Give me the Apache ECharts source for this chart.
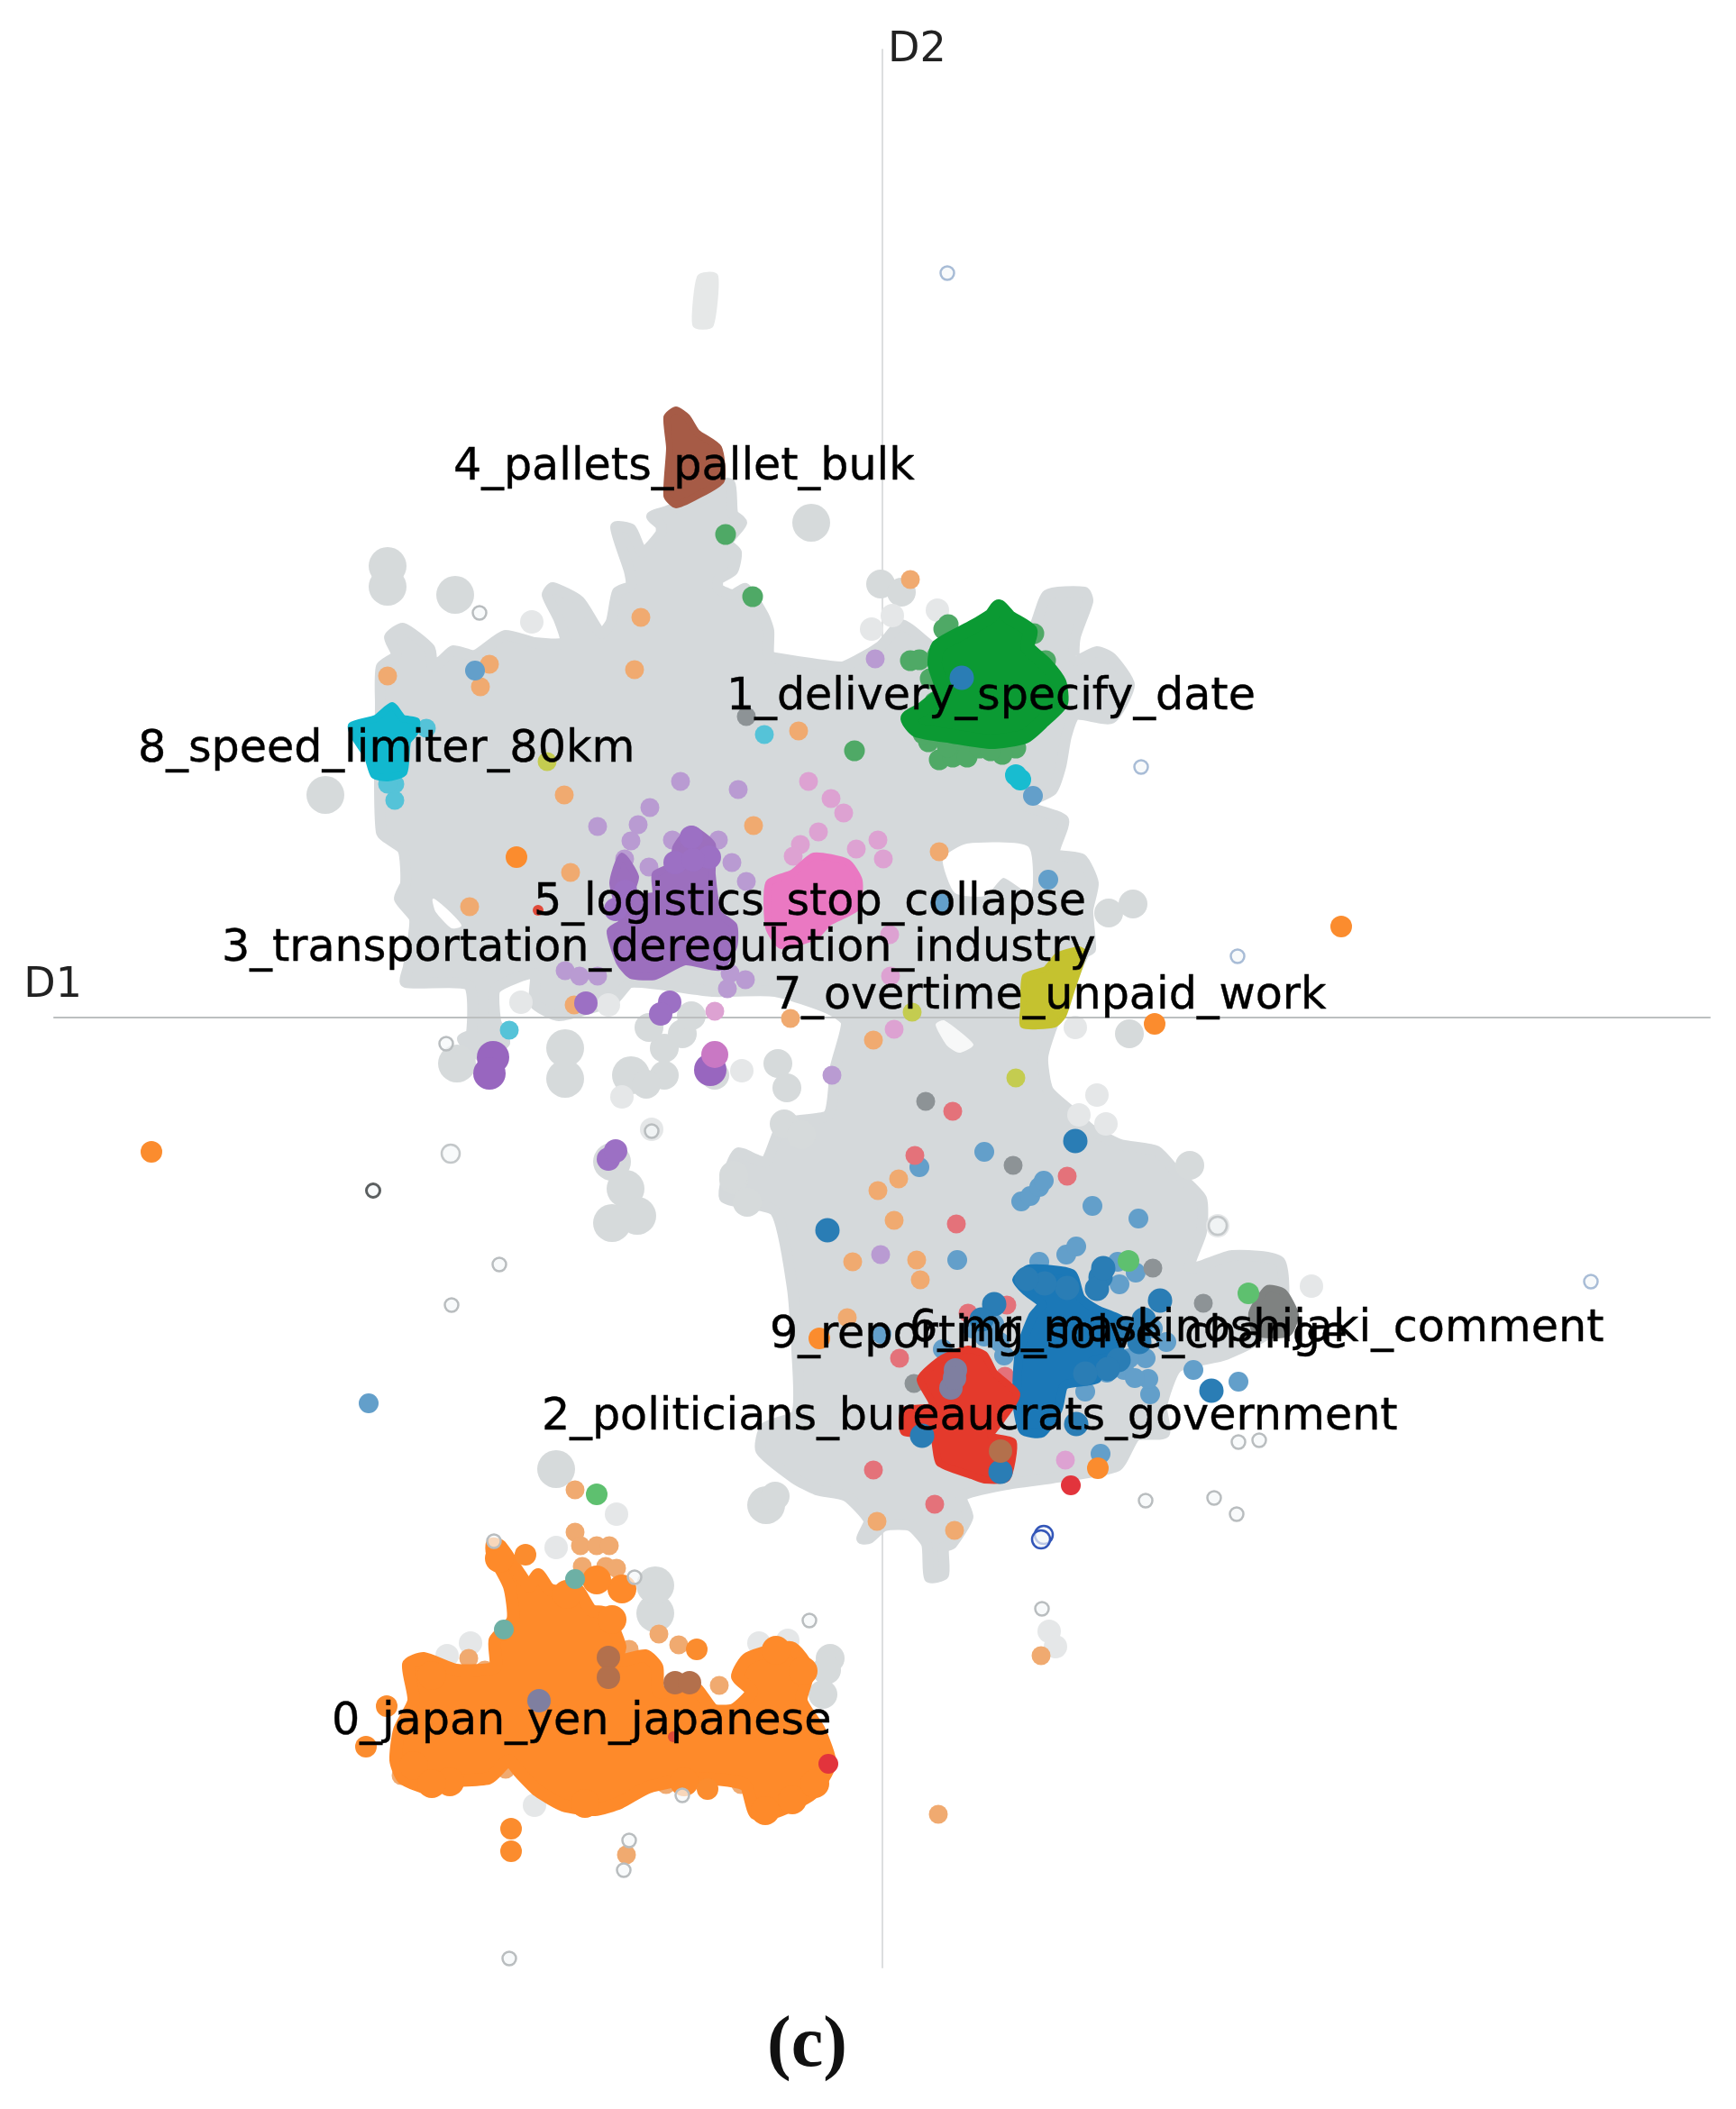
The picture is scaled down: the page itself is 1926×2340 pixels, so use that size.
<!DOCTYPE html>
<html>
<head>
<meta charset="utf-8">
<title>D1 D2 topic map</title>
<style>
html, body { margin: 0; padding: 0; background: #fff; }
#main { width: 1926px; height: 2340px; }
</style>
<script src="https://cdn.jsdelivr.net/npm/echarts@6/dist/echarts.min.js"></script>
</head>
<body>
<div id="main"></div>
<script>
// topic names and where their text starts on the D1 / D2 plane
const topicNames = [
    "0_japan_yen_japanese", "1_delivery_specify_date", "2_politicians_bureaucrats_government",
    "3_transportation_deregulation_industry", "4_pallets_pallet_bulk", "5_logistics_stop_collapse",
    "6_mr_maskinoshijaki_comment", "7_overtime_unpaid_work", "8_speed_limiter_80km", "9_reporting_solve_change"
]
const topicD1 = [-611, -173, -378, -733, -476, -387, 30, -121, -826, -125]
const topicD2 = [-782, 355, -444, 76, 610, 127, -346, 23, 297, -353]

// outlines of the dense regions
const grayMass = [
    [-557,349],[-556,389],[-539,402],[-547,422],[-532,432],[-502,409],[-499,389],[-489,396],[-476,407],[-452,402],
    [-419,424],[-386,416],[-352,416],[-359,442],[-372,469],[-366,477],[-336,462],[-312,426],[-301,439],[-294,472],
    [-279,479],[-281,496],[-296,544],[-279,542],[-266,516],[-246,537],[-246,546],[-256,556],[-239,562],[-189,582],
    [-186,592],[-169,592],[-166,559],[-156,549],[-166,536],[-172,526],[-162,516],[-166,496],[-182,486],[-182,476],
    [-166,469],[-152,476],[-132,446],[-126,429],[-126,402],[-119,399],[-46,389],[-29,396],[-2,412],[21,436],
    [54,412],[80,400],[164,426],[183,469],[224,472],[228,462],[214,422],[214,396],[238,406],[254,399],
    [274,369],[254,332],[214,336],[204,312],[198,279],[188,252],[158,236],[201,219],[191,182],[221,176],
    [234,149],[228,119],[231,76],[224,72],[190,-5],[178,-44],[184,-81],[214,-108],[231,-124],[264,-141],
    [304,-148],[328,-174],[354,-201],[354,-238],[341,-278],[388,-264],[441,-271],[441,-340],[381,-374],[327,-388],
    [310,-431],[313,-461],[281,-464],[260,-498],[188,-511],[138,-518],[88,-531],[95,-554],[77,-584],[68,-588],
    [68,-618],[52,-621],[49,-584],[31,-564],[2,-564],[-15,-578],[-23,-578],[-15,-558],[-40,-531],[-73,-524],
    [-98,-511],[-135,-480],[-130,-455],[-95,-440],[-95,-369],[-100,-300],[-119,-215],[-175,-200],[-170,-170],[-160,-150],
    [-130,-160],[-110,-118],[-60,-108],[-52,-54],[-40,-5],[-60,10],[-119,29],[-189,29],[-279,39],[-299,19],
    [-359,2],[-386,16],[-386,49],[-429,32],[-429,-4],[-419,-28],[-449,-41],[-466,-24],[-456,-18],[-459,36],
    [-529,39],[-526,56],[-519,109],[-536,132],[-529,149],[-532,186],[-556,206]
]
const grayStreak = [[-202,821],[-186,822],[-191,769],[-207,769]]
const gapRight = [[68,176],[94,192],[161,189],[164,139],[134,156],[114,136],[81,139]]
const gapLeft = [[-498,131],[-480,116],[-468,102],[-478,100],[-495,118]]
const gapNotch = [[60,-8],[68,-4],[100,-30],[85,-38],[72,-30]]
const greenCore = [
    [129,456],[141,444],[164,429],[161,411],[181,392],[196,372],[198,349],[178,329],[158,312],[121,306],
    [78,312],[38,319],[28,332],[44,342],[66,362],[58,392],[62,412],[98,432],[121,446]
]
const brownCore = [[-229,674],[-217,666],[-206,649],[-182,632],[-179,596],[-206,579],[-229,569],[-239,579],[-236,632],[-239,666]]
const cyanCore = [[-544,346],[-532,332],[-517,329],[-519,316],[-527,306],[-531,272],[-549,266],[-564,269],[-571,289],[-586,312],[-589,324],[-562,332]]
const purpleCore = [
    [-212,209],[-189,192],[-189,159],[-182,116],[-165,102],[-165,79],[-180,56],[-219,62],[-252,46],[-279,47],
    [-292,62],[-302,96],[-289,106],[-299,149],[-289,179],[-274,156],[-279,136],[-252,136],[-252,159],[-232,169],[-229,189]
]
const pinkCore = [[-76,179],[-39,172],[-26,152],[-29,122],[-59,106],[-75,90],[-112,80],[-126,100],[-126,149],[-100,160]]
const yellowCore = [[218,76],[224,72],[211,32],[201,2],[191,-8],[156,-9],[156,12],[158,46],[181,54],[194,69]]
const redCore = [
    [95,-368],[113,-374],[124,-394],[149,-418],[131,-448],[120,-464],[145,-471],[138,-511],[113,-513],[99,-508],
    [63,-494],[56,-464],[24,-460],[24,-436],[56,-431],[42,-401],[67,-378]
]
const blueCore = [
    [149,-291],[163,-279],[210,-284],[220,-311],[238,-324],[267,-338],[260,-374],[233,-381],[238,-401],[202,-408],
    [195,-434],[177,-461],[156,-458],[149,-424],[152,-371],[167,-331],[177,-318],[160,-304]
]
const grayCore = [[410,-328],[427,-301],[445,-305],[458,-330],[450,-350],[415,-350]]
const orangeCore = [
    [-433,-584],[-424,-586],[-402,-618],[-392,-631],[-382,-618],[-370,-634],[-354,-638],[-339,-634],[-323,-658],[-307,-661],
    [-291,-698],[-295,-714],[-263,-708],[-250,-721],[-248,-748],[-208,-744],[-188,-768],[-165,-768],[-145,-748],[-161,-731],
    [-149,-711],[-101,-699],[-82,-724],[-90,-758],[-70,-791],[-58,-828],[-78,-861],[-117,-881],[-141,-883],[-153,-851],
    [-208,-844],[-260,-854],[-291,-871],[-319,-879],[-354,-874],[-382,-858],[-402,-838],[-414,-824],[-420,-828],[-437,-844],
    [-489,-848],[-501,-856],[-532,-844],[-540,-824],[-536,-791],[-520,-758],[-526,-718],[-509,-711],[-473,-724],[-430,-721],
    [-430,-691],[-410,-668],[-414,-631],[-433,-594]
]

// scattered gray documents
const grayLarge = [
    [-549,501],[-549,478],[-474,469],[-618,247],[-79,549],[-129,-541],[-252,-661],[-252,-630],[-362,-501],[-300,-160],
    [-285,-190],[-272,-220],[-300,-228],[-472,-51],[-352,-34],[-352,-68],[-279,-64]
]
const grayMedium = [
    [-2,481],[21,472],[251,116],[278,126],[-242,-34],[-242,-64],[-262,-74],[-186,-64],[-222,-18],[-259,-11],
    [-212,2],[-116,-51],[-106,-78],[-109,-118],[274,-18],[-58,-711],[-119,-531],[-62,-724],[-66,-751],[341,-164],
    [-165,-180],[-150,-205],[-90,-130],[-165,-175]
]
const grayLight = [
    [-389,439],[61,452],[-12,431],[11,446],[238,-86],[218,-108],[248,-118],[214,-11],[-289,-88],
    [-156,-59],[-256,-124],[-401,17],[-304,14],[476,-298],[-362,-588],[-295,-551],[-483,-708],[-457,-694],[-137,-694],
    [-105,-691],[-386,-874],[185,-681],[192,-698],[372,-231]
]

// outlined, almost empty dots
const ringBlue = [[72,826],[287,278],[394,68],[786,-293]]
const ringGray = [
    [292,-536],[368,-533],[393,-551],[177,-656],[-81,-669],[-425,-274],[-478,-319],[-414,-1044],[-222,-863],
    [-287,-946],[-281,-913],[-431,-581],[-275,-621],[395,-471],[418,-469],[-447,449],[-484,-29],[-256,-126]
]
const ringLarge = [[-479,-151],[372,-231]]
const ringDark = [[-565,-192]]
const ringNavy = [[179,-574],[176,-579]]

// single documents per topic
const orangePale = [
    [-268,444],[-275,386],[-549,379],[-436,392],[-446,367],[31,486],[-93,318],[63,184],[-353,247],[-143,213],
    [-346,161],[-458,123],[-102,-1],[-10,-25],[18,-179],[-5,-192],[13,-225],[-33,-271],[38,-269],[42,-291],
    [-39,-333],[-6,-559],[80,-569],[176,-708],[-284,-929],[62,-884],[-342,14],[-341,-524],[-341,-571],[-335,-586],
    [-317,-586],[-303,-586],[-333,-609],[-307,-609],[-295,-611],[-248,-684],[-226,-696],[-281,-701],[-459,-711],[-465,-731],
    [-441,-724],[-181,-741],[-133,-761],[-121,-801],[-534,-841],[-418,-834],[-240,-851],[-157,-851]
]
const orangeStrong = [
    [-406,178],[302,-7],[509,101],[-811,-149],[-396,-596],[-412,-900],[-412,-925],[-194,-856],[-573,-809],[-550,-764],
    [239,-500],[-70,-356],[-206,-701]
]
const orangeLumps = [
    [-500,-730],[-520,-830],[-480,-848],[-330,-872],[-130,-880],[-100,-868],[-88,-725],[-118,-702],[-425,-600],[-350,-640],
    [-300,-668],[-289,-634],[-317,-624],[-500,-850],[-75,-850],[-220,-848]
]
const greenPale = [
    [73,436],[68,431],[31,396],[41,397],[61,402],[53,376],[38,329],[51,306],[63,286],[78,289],[88,302],[94,289],
    [108,299],[138,302],[148,299],[133,292],[168,426],[181,396],[-31,296],[-174,536],[-144,467],[58,350],[45,315],[72,300],[120,296]
]
const greenBright = [[406,-306],[273,-270],[-317,-529]]
const purplePale = [
    [-224,262],[-160,253],[-258,233],[-316,212],[-271,214],[-279,196],[-233,197],[-182,197],[-167,172],[-259,167],
    [-151,151],[-286,176],[-352,52],[-336,46],[-316,46],[-169,49],[-152,42],[-172,32],[-8,398],[-56,-64],[-2,-263]
]
const purpleStrong = [[-236,17],[-246,4],[-329,16],[-304,-157],[-296,-148],[-212,200],[-230,172],[-192,178],[-210,175],[-296,120],[-285,140]]
const purpleLarge = [[-432,-44],[-436,-62],[-191,-58]]
const pinkPale = [
    [-82,262],[-57,243],[-43,227],[-71,206],[-91,192],[-99,179],[-29,187],[-5,197],[1,176],[8,92],[9,46],[13,-13],[-186,7],[203,-491]
]
const pinkStrong = [[-186,-41]]
const cyanPale = [[-541,241],[-541,259],[-549,259],[-506,321],[-131,314],[-414,-14]]
const cyanStrong = [[153,264],[148,269]]
const bluePale = [
    [174,-271],[204,-263],[215,-254],[263,-296],[281,-283],[292,-378],[345,-391],[395,-404],[297,-418],[295,-401],
    [274,-378],[268,-391],[249,-394],[242,-484],[113,-354],[67,-368],[-1,-351],[83,-269],[113,-149],[41,-166],
    [233,-209],[284,-223],[154,-204],[164,-198],[174,-188],[179,-181],[167,246],[184,153],[64,127],[-452,385],[-570,-428],[261,-271],
    [124,-340],[130,-360],[100,-345],[135,-375],[315,-360],[300,-345],[280,-400],[225,-415]
]
const blueStrong = [
    [242,-288],[238,-301],[245,-278],[308,-314],[365,-414],[215,-451],[124,-318],[-61,-236],[88,377],[131,-504],[214,-137],[44,-464],
    [270,-345],[285,-360],[262,-380],[250,-390],[225,-395],[205,-300],[180,-295],[160,-290],[110,-335],[290,-335]
]
const redPale = [[78,-104],[36,-153],[205,-176],[82,-229],[19,-378],[-10,-502],[58,-540],[95,-328],[138,-319],[136,-398]]
const redStrong = [[209,-519],[-60,-828]]
const redSmall = [[-382,119],[-232,-798]]
const grayDots = [[48,-93],[145,-164],[300,-278],[356,-317],[-151,334],[35,-406]]
const brownDots = [[-304,-710],[-304,-732],[-230,-738],[-214,-738],[131,-481]]
const mauveDots = [[-381,-758],[81,-391],[76,-411],[80,-400]]
const yellowDots = [[33,6],[148,-67],[-372,284]]
const tealDots = [[-341,-623],[-420,-679]]

// draws one outline as a closed shape through the axes
function region(name, points, color, z, stroke) {
    return {
        type: "custom",
        name: name,
        z: z,
        silent: true,
        clip: false,
        data: points,
        encode: { x: 0, y: 1 },
        renderItem: function (params, api) {
            if (params.dataIndex !== 0) return null
            let shapePoints = points.map(p => api.coord(p))
            return {
                type: "polygon",
                shape: { points: shapePoints, smooth: 0.2 },
                style: { fill: color, stroke: color, lineWidth: stroke, lineJoin: "round" }
            }
        }
    }
}

function dots(name, points, color, size, z, border) {
    return {
        type: "scatter",
        name: name,
        z: z,
        silent: true,
        symbolSize: size,
        data: points,
        itemStyle: border
            ? { color: "rgba(245,248,250,0.7)", borderColor: color, borderWidth: border, opacity: 1 }
            : { color: color, opacity: 1 }
    }
}

let series = [
    dots("gray large", grayLarge, "#d6dadb", 42, 2),
    dots("gray medium", grayMedium, "#d6dadb", 32, 2),
    dots("gray light", grayLight, "#e5e7e8", 26, 2),
    region("gray mass", grayMass, "#d5d9db", 2, 12),
    region("gray streak", grayStreak, "#e6e8e8", 2, 8),
    region("gap right", gapRight, "#ffffff", 3, 2),
    region("gap left", gapLeft, "#ffffff", 3, 2),
    region("gap notch", gapNotch, "#f7f8f8", 3, 2),
    dots("0 pale", orangePale, "#f0aa70", 21, 5),
    dots("green pale", greenPale, "#4fa966", 23, 5),
    dots("purple pale", purplePale, "#b99bd2", 21, 5),
    dots("pink pale", pinkPale, "#dda2d2", 21, 5),
    dots("cyan pale", cyanPale, "#55c3d8", 21, 5),
    dots("blue pale", bluePale, "#639fca", 22, 5),
    dots("red pale", redPale, "#e4727a", 21, 5),
    dots("gray dots", grayDots, "#8d9396", 21, 5),
    region("1 core", greenCore, "#0b9a33", 6, 16),
    region("4 core", brownCore, "#a65b46", 6, 8),
    region("8 core", cyanCore, "#11b8cf", 6, 8),
    region("3 core", purpleCore, "#9c6fbe", 6, 8),
    region("5 core", pinkCore, "#ea78c2", 6, 8),
    region("7 core", yellowCore, "#c5c22f", 6, 6),
    region("6 core", blueCore, "#1b78b7", 6, 10),
    region("2 core", redCore, "#e43a2c", 6, 8),
    region("comment core", grayCore, "#7f8281", 6, 8),
    region("0 core", orangeCore, "#fe8a2a", 6, 14),
    dots("orange strong", orangeStrong, "#fb8c2e", 24, 7),
    dots("orange lumps", orangeLumps, "#fe8a2a", 32, 6),
    dots("purple strong", purpleStrong, "#9c70c4", 26, 7),
    dots("purple large", purpleLarge, "#9866bf", 36, 7),
    dots("pink strong", pinkStrong, "#c978c4", 30, 7),
    dots("cyan strong", cyanStrong, "#18bcd0", 24, 7),
    dots("blue strong", blueStrong, "#2a7db5", 27, 7),
    dots("red strong", redStrong, "#e2343c", 22, 7),
    dots("red small", redSmall, "#e04a3a", 12, 7),
    dots("green bright", greenBright, "#5ec06f", 24, 7),
    dots("brown dots", brownDots, "#b3704c", 26, 7),
    dots("mauve dots", mauveDots, "#7f7fa0", 26, 7),
    dots("yellow dots", yellowDots, "#c4cc50", 21, 7),
    dots("teal dots", tealDots, "#6db0a5", 22, 7),
    dots("ring blue", ringBlue, "#a8bcd6", 15, 8, 2.5),
    dots("ring gray", ringGray, "#b9bdbf", 15, 8, 2.5),
    dots("ring large", ringLarge, "#c3c7c9", 20, 8, 2.5),
    dots("ring dark", ringDark, "#5b5f60", 15, 8, 3),
    dots("ring navy", ringNavy, "#3356b8", 20, 8, 2.5),
    {
        type: "scatter",
        name: "topics",
        z: 10,
        silent: true,
        symbolSize: 0,
        data: topicNames.map((t, i) => ({ name: t, value: [topicD1[i], topicD2[i]] })),
        itemStyle: { opacity: 1 },
        label: {
            show: true,
            position: "right",
            distance: 0,
            formatter: "{b}",
            color: "#000",
            opacity: 1,
            fontFamily: "DejaVu Sans",
            fontSize: 49.2,
            textBorderColor: "#000",
            textBorderWidth: 0.4
        }
    }
]

let myChart = echarts.init(document.getElementById("main"), null, { renderer: "canvas" })
myChart.setOption({
    animation: false,
    backgroundColor: "#fff",
    title: {
        text: "(c)",
        left: 846,
        top: 2226,
        textStyle: { fontFamily: "Liberation Serif", fontWeight: "bold", fontSize: 80, color: "#111" }
    },
    grid: { left: 60, right: 29, top: 55, bottom: 157 },
    xAxis: {
        type: "value",
        z: 3,
        min: -919,
        max: 918,
        name: "D1",
        nameLocation: "start",
        nameGap: -31,
        nameTextStyle: { fontFamily: "DejaVu Sans", fontSize: 46, color: "#222", verticalAlign: "bottom", padding: [0, 0, 12, 0] },
        axisLine: { onZero: true, lineStyle: { color: "#bcbfc0", width: 2 } },
        axisTick: { show: false },
        axisLabel: { show: false },
        splitLine: { show: false }
    },
    yAxis: {
        type: "value",
        z: 1,
        min: -1054,
        max: 1074,
        name: "D2",
        nameLocation: "end",
        nameGap: -24,
        nameTextStyle: { fontFamily: "DejaVu Sans", fontSize: 46, color: "#222", align: "left", padding: [0, 0, 0, 6] },
        axisLine: { onZero: true, lineStyle: { color: "#dcdedf", width: 2 } },
        axisTick: { show: false },
        axisLabel: { show: false },
        splitLine: { show: false }
    },
    series: series
})
</script>
</body>
</html>
